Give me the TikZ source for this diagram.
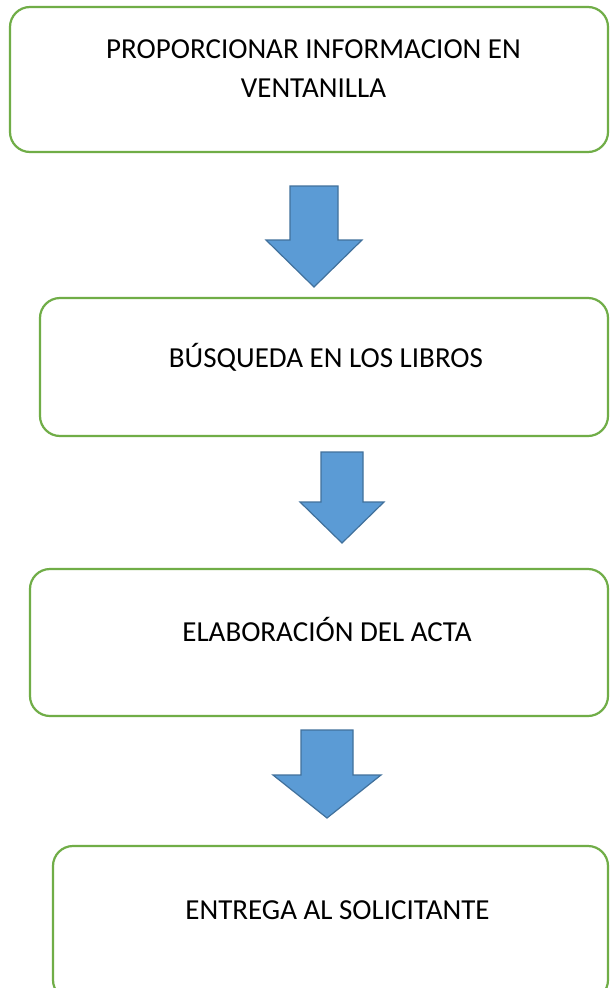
\documentclass[tikz,border=0pt]{standalone}
\usepackage{fontspec}
\setmainfont{Carlito}
\usepackage{xcolor}
\definecolor{verde}{HTML}{70AD47}
\definecolor{azul}{HTML}{5B9BD5}
\definecolor{azulborde}{HTML}{41719C}

\begin{document}
\begin{tikzpicture}[x=1pt,y=-1pt,
    caja/.style={draw=verde, line width=2.2pt, rounded corners=20pt, fill=white, inner sep=0pt},
    texto/.style={anchor=base, align=center, inner sep=0pt, font=\fontsize{29}{39}\selectfont},
    flecha/.style={fill=azul, draw=azulborde, line width=1.2pt, line join=miter}]
            \useasboundingbox[fill=white] (0,0) rectangle (610,988);
            % cajas
            \node[caja, minimum width=598pt, minimum height=145pt] (c1) at (309,79.5) {};
            \node[caja, minimum width=568pt, minimum height=138pt] (c2) at (324,367) {};
            \node[caja, minimum width=578pt, minimum height=147pt] (c3) at (319,642.5) {};
            \node[caja, minimum width=555pt, minimum height=154pt] (c4) at (330.5,923) {};
            % textos
            \node[texto] (t1) at (313.5,97) {PROPORCIONAR INFORMACION EN\\VENTANILLA};
            \node[texto] (t2) at (326,367) {BÚSQUEDA EN LOS LIBROS};
            \node[texto] (t3) at (327,641) {ELABORACIÓN DEL ACTA};
            \node[texto] (t4) at (337.5,919) {ENTREGA AL SOLICITANTE};
            % flechas
            \filldraw[flecha] (290,186) -- (338,186) -- (338,240) -- (362,240) -- (314,287)
                -- (266,240) -- (290,240) -- cycle;
            \filldraw[flecha] (321,452) -- (363,452) -- (363,502) -- (384,502) -- (342,543)
                -- (300,502) -- (321,502) -- cycle;
            \filldraw[flecha] (301,730) -- (353,730) -- (353,775) -- (381,775) -- (327,818)
                -- (273,775) -- (301,775) -- cycle;
        \end{tikzpicture}
\end{document}
